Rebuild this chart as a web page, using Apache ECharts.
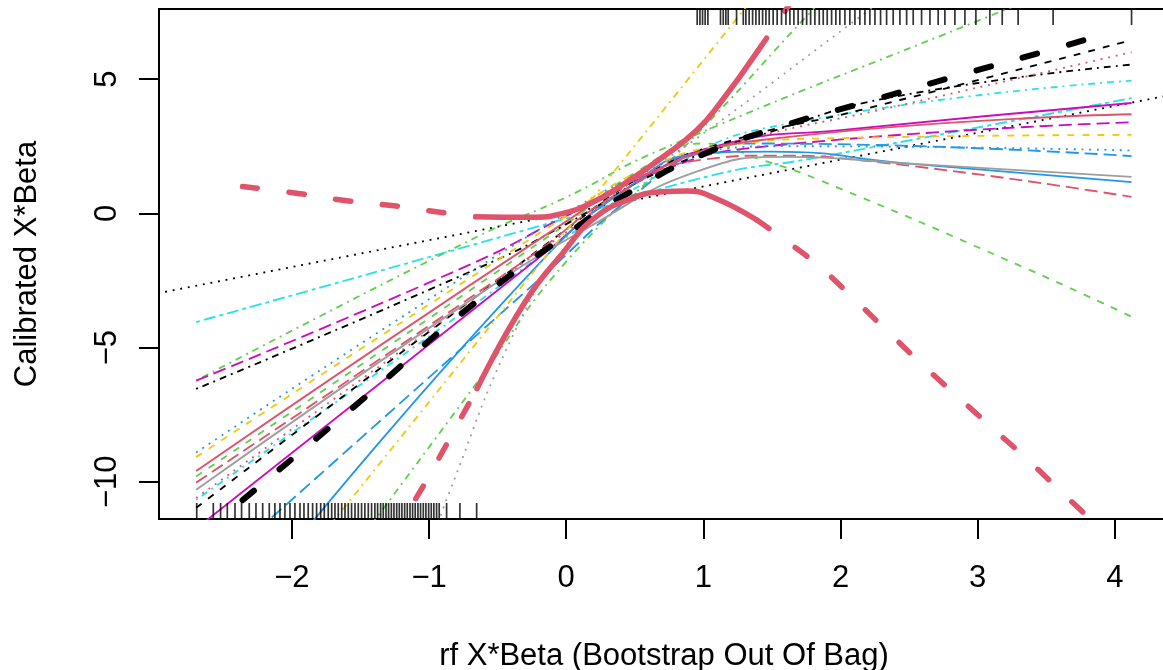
<!DOCTYPE html>
<html>
<head>
<meta charset="utf-8">
<script src="https://cdn.jsdelivr.net/npm/echarts@6/dist/echarts.min.js"></script>
<style>
html,body{margin:0;padding:0;background:#fff;}
#chart{width:1163px;height:670px;}
</style>
</head>
<body>
<div id="chart"></div>
<script>
// ---------- data ----------
const xTicks = [-2, -1, 0, 1, 2, 3, 4];
const yTicks = [-10, -5, 0, 5];
const xTitle = 'rf X*Beta (Bootstrap Out Of Bag)';
const yTitle = 'Calibrated X*Beta';

const identityLine = [[-3.2, -3.2], [4.6, 4.6]];

const cyanA = [[-2.698,-4.05],[-0.05,-0.26],[1.07,1.42],[1.8,2.05],[4.122,4.29]];
const cyanB = [[-2.698,-10.67],[-0.73,-3.61],[0,-0.9],[0.7,1.5],[1.48,3.2],[4.122,4.94]];
const greenA = [[-2.698,-6.23],[-0.64,-0.85],[0,0.6],[0.68,2.35],[3.19,7.56],[3.4,8.0]];
const greenB = [[-1.45,-11.8],[-0.65,-6.3],[0,-1.8],[0.914,2.75],[1.8,7.6],[1.9,8.1]];
const greenC = [[-2.698,-9.8],[0,-0.4],[0.5,1.5],[1.0,2.6],[1.436,1.97],[1.85,1.23],[3.33,-2.0],[4.122,-3.85]];
const magentaDash = [[-2.698,-6.23],[-0.685,-1.87],[0,-0.1],[0.7,1.6],[1.41,2.47],[4.122,3.39]];
const magentaSolid = [[-2.7,-11.75],[-0.223,-1.75],[0.5,1.1],[1.17,2.6],[2.0,3.1],[4.122,4.11]];
const blackDotdash = [[-2.698,-6.54],[-0.54,-1.81],[0,-0.4],[0.7,1.6],[1.5,3.05],[2.38,4.33],[4.122,5.54]];
const blackDashed = [[-2.698,-10.97],[0,-0.6],[0.6,1.5],[1.2,2.7],[2.14,3.84],[4.122,6.45]];
const blueDotted = [[-2.698,-8.91],[-1.27,-4.1],[0,0.0],[0.6,1.6],[1.0,2.3],[1.6,2.5],[4.122,2.34]];
const blueSolid = [[-1.9,-11.8],[-0.175,-1.75],[0.46,0.98],[0.95,2.2],[1.5,2.3],[2.5,1.85],[4.122,1.16]];
const blueDashed = [[-2.25,-11.8],[-0.175,-2.36],[0.5,0.7],[1.0,2.3],[1.41,2.6],[4.122,2.13]];
const yellowDashed = [[-2.698,-9.08],[0,-0.1],[0.6,1.7],[1.2,2.55],[2.0,2.8],[4.122,2.92]];
const yellowDotdash = [[-1.75,-11.8],[1.33,7.8]];
const redLongdash = [[-2.698,-10.03],[-0.3,-1.75],[0.4,0.8],[1.0,2.0],[1.5,2.15],[2.14,1.98],[4.122,0.61]];
const redSolid = [[-2.698,-9.6],[0,-0.3],[0.6,1.5],[1.41,2.72],[4.122,3.69]];
const redDotted = [[-2.698,-10.6],[0,-0.7],[0.6,1.5],[1.2,2.6],[2.38,3.96],[4.122,6.0]];
const graySolid = [[-2.698,-10.3],[-0.63,-3.0],[0.17,-0.5],[0.95,1.55],[1.6,2.1],[2.5,1.85],[4.122,1.36]];
const grayDotted = [[-0.95,-11.8],[-0.856,-10.44],[-0.394,-4.61],[0,-1.2],[0.4,0.9],[0.926,2.7],[2.19,7.5],[2.3,7.9]];

const mainCurve = [[-2.36,-10.68],[-1.5,-7.0],[-0.75,-3.68],[0,-0.8],[0.5,0.9],[1.0,2.2],[1.52,3.16],[2.19,4.15],[2.87,5.15],[3.54,6.1],[3.95,6.71]];

const upperBandLeft = [[-2.36,1.0],[-1.94,0.73],[-1.6,0.47],[-1.24,0.27],[-0.906,0.03],[-0.66,-0.13]];
const upperBandMid = [[-0.66,-0.13],[-0.265,-0.15],[-0.024,0.0],[0.222,0.49],[0.464,1.24],[0.705,2.10],[0.951,3.09],[1.12,4.09],[1.40,6.07]];
const upperBandRight = [[1.40,6.07],[1.534,7.07],[1.65,7.95]];
const lowerBandLeft = [[-1.25,-12.2],[-1.12,-10.85],[-1.015,-9.92],[-0.843,-8.33],[-0.65,-6.53]];
const lowerBandMid = [[-0.65,-6.53],[-0.3,-3.3],[-0.02,-1.45],[0.2,-0.2],[0.45,0.5],[0.7,0.8],[0.88,0.83],[1.07,0.6],[1.39,-0.25]];
const lowerBandRight = [[1.39,-0.25],[1.58,-0.94],[1.85,-2.0],[2.1,-3.2],[2.36,-4.48],[2.61,-5.7],[2.87,-6.9],[3.13,-8.1],[3.39,-9.3],[3.65,-10.57],[3.95,-12.0]];

const topRug = [0.955,0.975,0.994,1.013,1.033,1.125,1.145,1.164,1.181,1.242,1.291,1.310,1.334,1.359,1.383,1.407,1.432,1.456,1.480,1.509,1.538,1.570,1.602,1.631,1.660,1.691,1.723,1.753,1.782,1.813,1.845,1.874,1.903,1.935,1.966,1.995,2.032,2.068,2.105,2.141,2.178,2.214,2.251,2.292,2.336,2.384,2.433,2.482,2.530,2.591,2.652,2.712,2.761,2.834,2.907,2.987,3.089,3.179,3.295,3.550,4.122];
const bottomRug = [-2.694,-2.573,-2.520,-2.471,-2.415,-2.367,-2.311,-2.262,-2.213,-2.165,-2.124,-2.087,-2.051,-2.014,-1.978,-1.941,-1.912,-1.881,-1.849,-1.820,-1.790,-1.764,-1.735,-1.710,-1.686,-1.662,-1.637,-1.613,-1.589,-1.565,-1.540,-1.516,-1.492,-1.468,-1.443,-1.419,-1.395,-1.375,-1.353,-1.334,-1.314,-1.295,-1.275,-1.256,-1.236,-1.217,-1.198,-1.178,-1.159,-1.139,-1.120,-1.101,-1.081,-1.062,-1.042,-1.023,-1.003,-0.984,-0.965,-0.945,-0.926,-0.872,-0.775,-0.653];

// ---------- styles ----------
const X_MIN = -2.969, X_MAX = 4.395, Y_MIN = -11.385, Y_MAX = 7.61;
const COL = {black:'#000000', red:'#DF536B', green:'#61D04F', blue:'#2297E6', cyan:'#28E2E5', magenta:'#CD0BBC', yellow:'#F5C710', gray:'#9E9E9E'};
const DASH = {solid:'solid', dashed:[7,8], dotted:[1.9,5.8], dotdash:[1.9,5,7,5], longdash:[13,6], twodash:[4,4,12,4]};
const FONT = "'Liberation Sans', Arial, Helvetica, sans-serif";
const FS = 31;
const THIN = 1.85;

const thin = [
  [cyanA, 'cyan', 'twodash'],
  [cyanB, 'cyan', 'dotdash'],
  [greenA, 'green', 'dotdash'],
  [greenB, 'green', 'dotdash'],
  [greenC, 'green', 'dashed'],
  [magentaDash, 'magenta', 'longdash'],
  [magentaSolid, 'magenta', 'solid'],
  [blackDotdash, 'black', 'dotdash'],
  [blackDashed, 'black', 'dashed'],
  [blueDotted, 'blue', 'dotted'],
  [blueSolid, 'blue', 'solid'],
  [blueDashed, 'blue', 'longdash'],
  [yellowDashed, 'yellow', 'dashed'],
  [yellowDotdash, 'yellow', 'dotdash'],
  [redLongdash, 'red', 'longdash'],
  [redSolid, 'red', 'solid'],
  [redDotted, 'red', 'dotted'],
  [graySolid, 'gray', 'solid'],
  [grayDotted, 'gray', 'dotted']
];

function lineSeries(data, color, type, width, cap, z) {
  return {
    type: 'line', data: data, symbol: 'none', showSymbol: false,
    smooth: data.length > 2 ? 0.5 : false,
    clip: true, silent: true, z: z,
    lineStyle: {color: color, width: width, type: type, cap: cap, join: 'round'}
  };
}

const series = [];
series.push(lineSeries(identityLine, COL.black, DASH.dotted, THIN, 'butt', 2));
thin.forEach(t => series.push(lineSeries(t[0], COL[t[1]], DASH[t[2]], THIN, 'butt', 3)));
series.push(lineSeries(mainCurve, COL.black, [15, 33], 6, 'round', 4));
series.push(lineSeries(upperBandLeft, COL.red, [15, 32], 5.5, 'round', 5));
series.push(lineSeries(upperBandMid, COL.red, 'solid', 5.5, 'round', 5));
series.push(lineSeries(upperBandRight, COL.red, [15, 32], 5.5, 'round', 5));
series.push(lineSeries(lowerBandLeft, COL.red, [15, 32], 5.5, 'round', 5));
series.push(lineSeries(lowerBandMid, COL.red, 'solid', 5.5, 'round', 5));
series.push(lineSeries(lowerBandRight, COL.red, [15, 32], 5.5, 'round', 5));

series.push({
  type: 'scatter', data: topRug.map(x => [x, Y_MAX]), symbol: 'rect',
  symbolSize: [1.7, 16], symbolOffset: [0, 8], clip: false, silent: true, z: 6,
  itemStyle: {color: '#000'}
});
series.push({
  type: 'scatter', data: bottomRug.map(x => [x, Y_MIN]), symbol: 'rect',
  symbolSize: [1.7, 16], symbolOffset: [0, -8], clip: false, silent: true, z: 6,
  itemStyle: {color: '#000'}
});

const fmt = v => String(v).replace('-', '\u2212');

const option = {
  animation: false,
  backgroundColor: '#fff',
  textStyle: {fontFamily: FONT},
  grid: {left: 159, top: 9, right: -6, bottom: 151, containLabel: false, outerBoundsMode: 'none',
         show: true, borderColor: '#000', borderWidth: 2, backgroundColor: 'transparent'},
  xAxis: {
    type: 'value', min: X_MIN, max: X_MAX, position: 'bottom',
    name: xTitle, nameLocation: 'middle', nameGap: 122,
    nameTextStyle: {fontSize: FS, color: '#000', fontFamily: FONT},
    axisLine: {show: false, onZero: false},
    splitLine: {show: false},
    axisTick: {show: true, customValues: xTicks, length: 20, lineStyle: {color: '#000', width: 2}},
    axisLabel: {show: true, customValues: xTicks, formatter: fmt, fontSize: FS, color: '#000', margin: 44, fontFamily: FONT}
  },
  yAxis: {
    type: 'value', min: Y_MIN, max: Y_MAX, position: 'left',
    name: yTitle, nameLocation: 'middle', nameGap: 116,
    nameTextStyle: {fontSize: FS, color: '#000', fontFamily: FONT},
    axisLine: {show: false, onZero: false},
    splitLine: {show: false},
    axisTick: {show: true, customValues: yTicks, length: 20, lineStyle: {color: '#000', width: 2}},
    axisLabel: {show: true, customValues: yTicks, formatter: fmt, rotate: 90, fontSize: FS, color: '#000', margin: 36, fontFamily: FONT}
  },
  series: series
};

const chart = echarts.init(document.getElementById('chart'), null, {renderer: 'canvas'});
chart.setOption(option);
</script>
</body>
</html>
